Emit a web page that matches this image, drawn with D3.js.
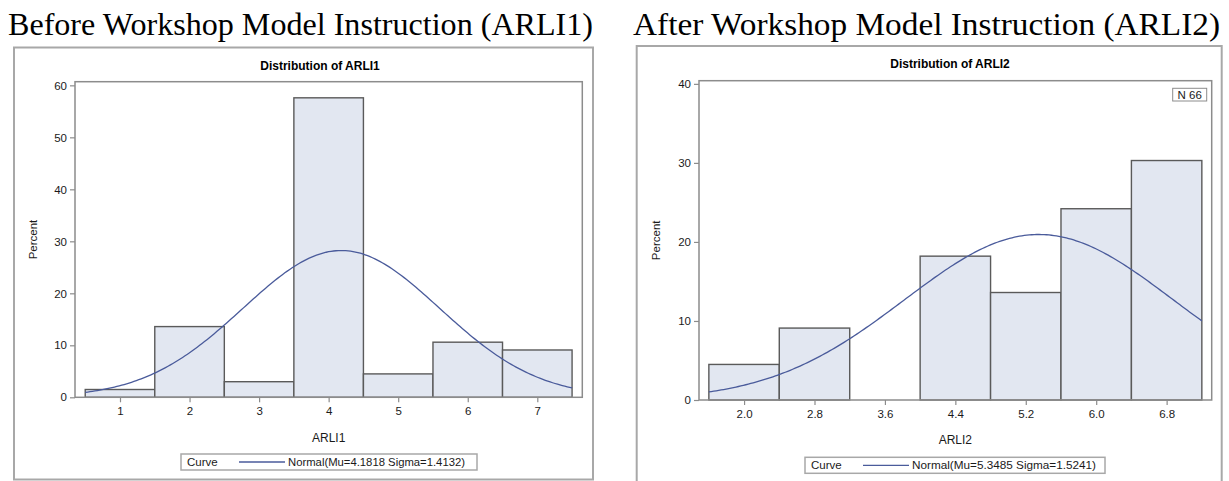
<!DOCTYPE html>
<html>
<head>
<meta charset="utf-8">
<script src="https://cdn.jsdelivr.net/npm/d3@7"></script>
<style>
  html, body { margin: 0; padding: 0; background: #fff; }
  svg { display: block; }
  .sans { font-family: Arial, "Liberation Sans", sans-serif; }
</style>
</head>
<body>
<svg id="chart" width="1229" height="481"></svg>
<script>
// ---------------- DATA ----------------
const panelTitles = ["Before Workshop Model Instruction (ARLI1)", "After Workshop Model Instruction (ARLI2)"];
const chartTitles = ["Distribution of ARLI1", "Distribution of ARLI2"];
const xLabels = ["ARLI1", "ARLI2"];

const arli1Mid = [1, 2, 3, 4, 5, 6, 7];
const arli1Pct = [1.5, 13.6, 3.0, 57.6, 4.5, 10.6, 9.1];
const arli1BinWidth = 1;
const arli1Ticks = [1, 2, 3, 4, 5, 6, 7];
const arli1TickLabels = ["1", "2", "3", "4", "5", "6", "7"];
const arli1YTicks = [0, 10, 20, 30, 40, 50, 60];
const arli1Mu = 4.1818, arli1Sigma = 1.4132;

const arli2Mid = [2.0, 2.8, 3.6, 4.4, 5.2, 6.0, 6.8];
const arli2Pct = [4.5, 9.1, 0, 18.2, 13.6, 24.2, 30.3];
const arli2BinWidth = 0.8;
const arli2Ticks = [2.0, 2.8, 3.6, 4.4, 5.2, 6.0, 6.8];
const arli2TickLabels = ["2.0", "2.8", "3.6", "4.4", "5.2", "6.0", "6.8"];
const arli2YTicks = [0, 10, 20, 30, 40];
const arli2Mu = 5.3485, arli2Sigma = 1.5241;
const arli2N = 66;

const legendLabels = ["Normal(Mu=4.1818 Sigma=1.4132)", "Normal(Mu=5.3485 Sigma=1.5241)"];

// ---------------- DRAW ----------------
const svg = d3.select("#chart");
const fillColor = "#e2e7f1";
const barStroke = "#5a5a5a";
const curveColor = "#4a5b9b";
const frameColor = "#a8a8a8";
const axisColor = "#8c8c8c";
const textColor = "#1a1a1a";

function normalPct(x, mu, sigma, bw) {
  return 100 * bw * Math.exp(-0.5 * ((x - mu) / sigma) ** 2) / (sigma * Math.sqrt(2 * Math.PI));
}

function drawPanel(o) {
  const g = svg.append("g");
  // panel heading (serif)
  g.append("text").attr("x", o.headX).attr("y", 35)
    .attr("font-family", "'Liberation Serif', 'Times New Roman', serif")
    .attr("font-size", 31).attr("fill", "#000")
    .attr("textLength", o.headLen).attr("lengthAdjust", "spacingAndGlyphs")
    .text(o.heading);

  // outer frame
  g.append("rect").attr("x", o.frame[0]).attr("y", o.frame[1])
    .attr("width", o.frame[2]).attr("height", o.frame[3])
    .attr("fill", "none").attr("stroke", frameColor).attr("stroke-width", 2);

  // chart title
  g.append("text").attr("class", "sans").attr("x", o.titleX).attr("y", o.titleY)
    .attr("text-anchor", "middle").attr("font-size", 12).attr("font-weight", "bold")
    .attr("fill", "#000").text(o.title);

  const x = d3.scaleLinear().domain(o.xDomain).range([o.plot[0], o.plot[2]]);
  const y = d3.scaleLinear().domain(o.yDomain).range([o.plot[3], o.plot[1]]);

  // bars
  g.append("g").selectAll("rect").data(o.mid.map((m, i) => ({ m, p: o.pct[i] })).filter(d => d.p > 0))
    .join("rect")
    .attr("x", d => x(d.m - o.bw / 2))
    .attr("width", d => x(d.m + o.bw / 2) - x(d.m - o.bw / 2))
    .attr("y", d => y(d.p))
    .attr("height", d => y(0) - y(d.p))
    .attr("fill", fillColor).attr("stroke", barStroke).attr("stroke-width", 1.4);

  // normal curve
  const lo = o.mid[0] - o.bw / 2, hi = o.mid[o.mid.length - 1] + o.bw / 2;
  const pts = d3.range(0, 201).map(i => lo + (hi - lo) * i / 200);
  g.append("path").datum(pts)
    .attr("d", d3.line().x(v => x(v)).y(v => y(normalPct(v, o.mu, o.sigma, o.bw))))
    .attr("fill", "none").attr("stroke", curveColor).attr("stroke-width", 1.3);

  // plot frame
  g.append("rect").attr("x", o.plot[0]).attr("y", o.plot[1])
    .attr("width", o.plot[2] - o.plot[0]).attr("height", o.plot[3] - o.plot[1])
    .attr("fill", "none").attr("stroke", axisColor).attr("stroke-width", 1.5);

  // axes
  const xAxis = d3.axisBottom(x).tickValues(o.ticks).tickFormat((d, i) => o.tickLabels[i])
    .tickSize(5).tickSizeOuter(0).tickPadding(5);
  const gx = g.append("g").attr("transform", `translate(0,${o.plot[3]})`).call(xAxis);
  const yAxis = d3.axisLeft(y).tickValues(o.yTicks).tickSize(5).tickSizeOuter(0).tickPadding(3);
  const gy = g.append("g").attr("transform", `translate(${o.plot[0]},0)`).call(yAxis);
  [gx, gy].forEach(a => {
    a.select(".domain").remove();
    a.selectAll(".tick line").attr("stroke", axisColor).attr("stroke-width", 1.2);
    a.selectAll(".tick text").attr("font-family", "Arial, 'Liberation Sans', sans-serif")
      .attr("font-size", 11.5).attr("fill", textColor);
  });

  // axis labels
  g.append("text").attr("class", "sans").attr("x", (o.plot[0] + o.plot[2]) / 2).attr("y", o.xLabelY)
    .attr("text-anchor", "middle").attr("font-size", 12).attr("fill", textColor).text(o.xLabel);
  g.append("text").attr("class", "sans")
    .attr("transform", `translate(${o.yLabelX},${(o.plot[1] + o.plot[3]) / 2}) rotate(-90)`)
    .attr("text-anchor", "middle").attr("font-size", 11.5).attr("fill", textColor).text("Percent");

  // legend
  const L = o.legend;
  g.append("rect").attr("x", L[0]).attr("y", L[1]).attr("width", L[2] - L[0]).attr("height", L[3] - L[1])
    .attr("fill", "#fff").attr("stroke", frameColor).attr("stroke-width", 1.5);
  g.append("text").attr("class", "sans").attr("x", L[0] + 6).attr("y", L[3] - 4)
    .attr("font-size", 11.5).attr("fill", textColor).text("Curve");
  g.append("line").attr("x1", L[0] + 58).attr("x2", L[0] + 104)
    .attr("y1", (L[1] + L[3]) / 2).attr("y2", (L[1] + L[3]) / 2)
    .attr("stroke", curveColor).attr("stroke-width", 1.3);
  g.append("text").attr("class", "sans").attr("x", L[0] + 107).attr("y", L[3] - 4)
    .attr("font-size", 11).attr("fill", textColor)
    .attr("textLength", o.legendLen).attr("lengthAdjust", "spacingAndGlyphs").text(o.legendLabel);

  if (o.n) {
    const nb = o.nBox;
    g.append("rect").attr("x", nb[0]).attr("y", nb[1]).attr("width", nb[2] - nb[0]).attr("height", nb[3] - nb[1])
      .attr("fill", "#fff").attr("stroke", axisColor).attr("stroke-width", 1);
    g.append("text").attr("class", "sans").attr("x", (nb[0] + nb[2]) / 2).attr("y", nb[3] - 2.5)
      .attr("text-anchor", "middle").attr("font-size", 11.5).attr("fill", textColor).text("N " + o.n);
  }
}

drawPanel({
  heading: panelTitles[0], headX: 8, headLen: 585,
  frame: [14, 47.5, 579, 432],
  title: chartTitles[0], titleX: 320, titleY: 70,
  plot: [75, 81.7, 582.3, 397.3],
  xDomain: [0.353, 7.647], yDomain: [0, 60.7],
  mid: arli1Mid, pct: arli1Pct, bw: arli1BinWidth,
  mu: arli1Mu, sigma: arli1Sigma,
  ticks: arli1Ticks, tickLabels: arli1TickLabels, yTicks: arli1YTicks,
  xLabel: xLabels[0], xLabelY: 442, yLabelX: 37,
  legend: [181, 454, 477, 470], legendLabel: legendLabels[0], legendLen: 177
});

drawPanel({
  heading: panelTitles[1], headX: 633, headLen: 587,
  frame: [636.7, 46, 585, 440],
  title: chartTitles[1], titleX: 950, titleY: 68,
  plot: [699, 80.7, 1211.7, 400],
  xDomain: [1.488, 7.312], yDomain: [0, 40.4],
  mid: arli2Mid, pct: arli2Pct, bw: arli2BinWidth,
  mu: arli2Mu, sigma: arli2Sigma,
  ticks: arli2Ticks, tickLabels: arli2TickLabels, yTicks: arli2YTicks,
  xLabel: xLabels[1], xLabelY: 444, yLabelX: 660,
  legend: [805, 457.3, 1105, 473.3], legendLabel: legendLabels[1], legendLen: 184,
  n: arli2N, nBox: [1172.7, 88.3, 1206.7, 101]
});
</script>
</body>
</html>
